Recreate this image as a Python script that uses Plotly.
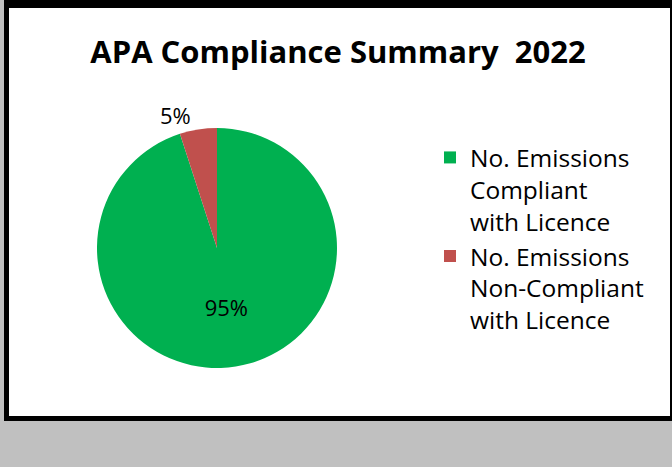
import plotly.graph_objects as go

labels = ["No. Emissions<br>Compliant<br>with Licence", "No. Emissions<br>Non-Compliant<br>with Licence"]
values = [95, 5]
colors = ["#00b050", "#c0504d"]
title_text = "APA Compliance Summary  2022"

W, H = 672, 467
FONT = "Open Sans, Noto Sans, sans-serif"

fig = go.Figure(go.Pie(
    labels=labels,
    values=values,
    sort=False,
    direction="clockwise",
    rotation=0,
    marker=dict(colors=colors, line=dict(width=0)),
    textinfo="percent",
    texttemplate="%{percent:.0%}",
    textposition=["inside", "outside"],
    insidetextfont=dict(size=22, color="black", family=FONT),
    outsidetextfont=dict(size=22, color="black", family=FONT),
    domain=dict(x=[97 / W, 337 / W], y=[1 - 368 / H, 1 - 128 / H]),
    hoverinfo="label+percent",
))

def px_rect(x0, y0, x1, y1, color):
    fig.add_shape(type="rect", xref="paper", yref="paper",
                  x0=x0 / W, x1=x1 / W, y0=1 - y1 / H, y1=1 - y0 / H,
                  line=dict(width=0), fillcolor=color, layer="below")

# chart-area frame: black border, white interior
px_rect(4, -2, 674, 421, "black")
px_rect(9, 8, 670, 416, "white")

fig.update_layout(
    width=W, height=H,
    margin=dict(l=0, r=0, t=0, b=0),
    paper_bgcolor="#c0c0c0",
    plot_bgcolor="white",
    title=dict(text="<b>" + title_text + "</b>", x=338 / W, xanchor="center",
               y=1 - 52 / H, yanchor="middle",
               font=dict(size=31, color="black", family=FONT)),
    showlegend=True,
    legend=dict(x=430 / W, y=1 - 135 / H, xanchor="left", yanchor="top",
                valign="top",
                font=dict(size=24.5, color="black", family=FONT),
                bgcolor="rgba(0,0,0,0)", tracegroupgap=0),
)

fig.write_html("out.html",
               config={"displayModeBar": False},
               post_script="document.body.style.margin='0';document.body.style.background='#c0c0c0';")
